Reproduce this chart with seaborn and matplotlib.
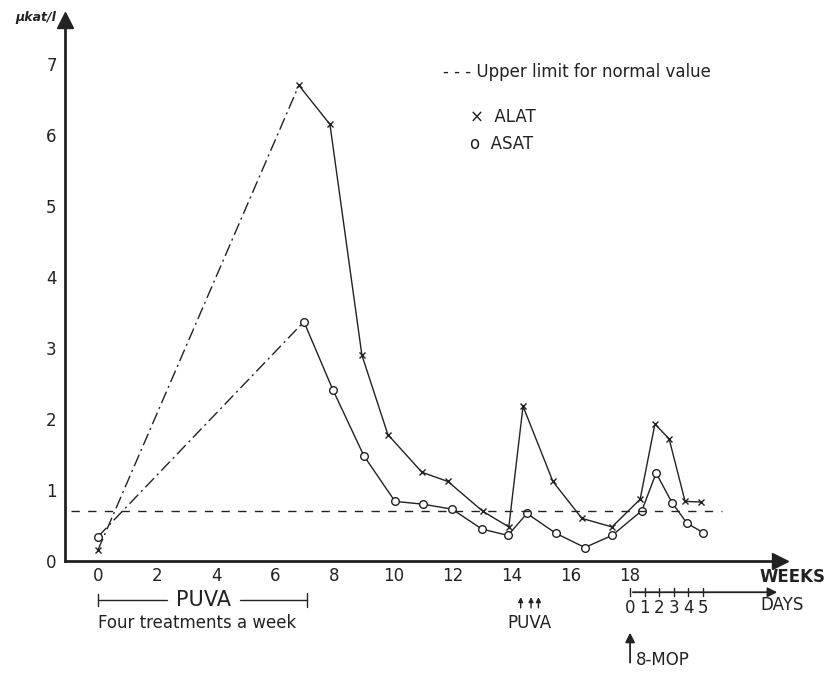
import numpy as np
import pandas as pd
import matplotlib
matplotlib.use("Agg")
import matplotlib.pyplot as plt
import seaborn as sns

# weeks after start of PUVA, values in ukat/l
alat_weeks = [0, 6.8, 7.85, 8.93, 9.81, 10.96, 11.84, 13.02, 13.9, 14.38,
              15.39, 16.37, 17.39, 18.34, 18.84, 19.32, 19.86, 20.4]
alat_vals = [0.15, 6.7, 6.15, 2.9, 1.78, 1.25, 1.12, 0.7, 0.48, 2.18,
             1.12, 0.6, 0.48, 0.87, 1.93, 1.72, 0.84, 0.83]
asat_weeks = [0, 6.97, 7.95, 9.0, 10.05, 11.0, 11.98, 12.99, 13.87, 14.51,
              15.49, 16.47, 17.39, 18.4, 18.88, 19.42, 19.93, 20.47]
asat_vals = [0.34, 3.37, 2.41, 1.48, 0.84, 0.8, 0.73, 0.45, 0.36, 0.67,
             0.39, 0.19, 0.36, 0.71, 1.24, 0.82, 0.53, 0.4]
upper_limit = 0.7
week_ticks = list(range(0, 19))
week_labels = [str(w) if w % 2 == 0 else "" for w in week_ticks]
day_labels = ["0", "1", "2", "3", "4", "5"]
puva_arrows = [14.3, 14.65, 14.9]

alat = pd.DataFrame({"week": alat_weeks, "value": alat_vals})
asat = pd.DataFrame({"week": asat_weeks, "value": asat_vals})

sns.set_style("white")
plt.rcParams["font.family"] = ["DejaVu Sans"]
ink = "#222222"

fig = plt.figure(figsize=(8.28, 6.77), dpi=100)
ax = fig.add_axes([65 / 828, 116 / 677, 715 / 828, 541 / 677])

# dash-dot rise during first PUVA period, then solid with markers
for df, mk, ms in [(alat, "x", 5), (asat, "o", 5.5)]:
    sns.lineplot(data=df.iloc[:2], x="week", y="value", ax=ax, color=ink,
                 lw=1.0, linestyle=(0, (9, 3, 1.5, 3)), estimator=None, sort=False)
    sns.lineplot(data=df.iloc[1:], x="week", y="value", ax=ax, color=ink,
                 lw=1.0, marker=mk, markersize=ms, markerfacecolor="white",
                 markeredgecolor=ink, markeredgewidth=1.0, estimator=None, sort=False)
    ax.plot(df.week[0], df.value[0], mk, color=ink, mfc="white", ms=ms, mew=1.0)

ax.plot([-0.9, 21.1], [upper_limit, upper_limit], color=ink, lw=1.0,
        linestyle=(0, (6, 6)))

ax.set_xlim(-1.11, 23.07)
ax.set_ylim(0, 7.62)
ax.set_xlabel("")
ax.set_ylabel("")
ax.set_xticks(week_ticks)
ax.set_xticklabels(week_labels)
ax.set_yticks(range(0, 8))
ax.tick_params(axis="x", direction="inout", length=5, width=1.2, pad=2,
               labelsize=12, colors=ink)
ax.tick_params(axis="y", direction="inout", length=8, width=1.0, pad=2,
               labelsize=12, colors=ink)
for s in ["top", "right"]:
    ax.spines[s].set_visible(False)
for s in ["left", "bottom"]:
    ax.spines[s].set_linewidth(2.0)
    ax.spines[s].set_color(ink)
ax.plot(1, 0, ">", ms=11, color=ink, transform=ax.transAxes, clip_on=False)
ax.plot(0, 1, "^", ms=11, color=ink, transform=ax.transAxes, clip_on=False)

# legend text
fig.text(443 / 828, 1 - 72 / 677, "- - - Upper limit for normal value",
         fontsize=12, color=ink, va="center")
fig.text(470 / 828, 1 - 117 / 677, "×  ALAT", fontsize=12, color=ink, va="center")
fig.text(470 / 828, 1 - 144 / 677, "o  ASAT", fontsize=12, color=ink, va="center")
fig.text(15 / 828, 1 - 18 / 677, "μkat/l", fontsize=9, fontweight="bold",
         fontstyle="italic", color=ink, va="center")
fig.text(760 / 828, 1 - 577 / 677, "WEEKS", fontsize=12, fontweight="bold",
         color=ink, va="center")
fig.text(760 / 828, 1 - 605 / 677, "DAYS", fontsize=12, color=ink, va="center")

# first PUVA period bracket
yb = -0.55
ax.plot([0, 2.35], [yb, yb], color=ink, lw=1.0, clip_on=False)
ax.plot([4.8, 7.07], [yb, yb], color=ink, lw=1.0, clip_on=False)
ax.plot([0, 0], [yb - 0.08, yb + 0.08], color=ink, lw=1.0, clip_on=False)
ax.plot([7.07, 7.07], [yb - 0.1, yb + 0.1], color=ink, lw=1.0, clip_on=False)
ax.text(3.58, yb, "PUVA", fontsize=15, color=ink, ha="center", va="center")
ax.text(0, -0.87, "Four treatments a week", fontsize=12, color=ink,
        ha="left", va="center")

# second PUVA course
for xa in puva_arrows:
    ax.annotate("", xy=(xa, -0.47), xytext=(xa, -0.7), annotation_clip=False,
                arrowprops=dict(arrowstyle="-|>", color=ink, lw=1.0,
                                mutation_scale=7))
ax.text(14.6, -0.87, "PUVA", fontsize=12, color=ink, ha="center", va="center")

# day scale under week 18
yd = -0.44
day_pos = [18 + 0.49 * d for d in range(len(day_labels))]
ax.annotate("", xy=(23.07, yd), xytext=(18, yd), annotation_clip=False,
            arrowprops=dict(arrowstyle="-|>", color=ink, lw=1.3,
                            mutation_scale=14))
for xp, lab in zip(day_pos, day_labels):
    ax.plot([xp, xp], [yd - 0.06, yd + 0.06], color=ink, lw=1.0, clip_on=False)
    ax.text(xp, -0.66, lab, fontsize=12, color=ink, ha="center", va="center")

# 8-MOP dose
ax.annotate("", xy=(18, -0.97), xytext=(18, -1.47), annotation_clip=False,
            arrowprops=dict(arrowstyle="-|>", color=ink, lw=1.3,
                            mutation_scale=14))
ax.text(18.2, -1.39, "8-MOP", fontsize=12, color=ink, ha="left", va="center")

fig.savefig("out.png", dpi=100)
